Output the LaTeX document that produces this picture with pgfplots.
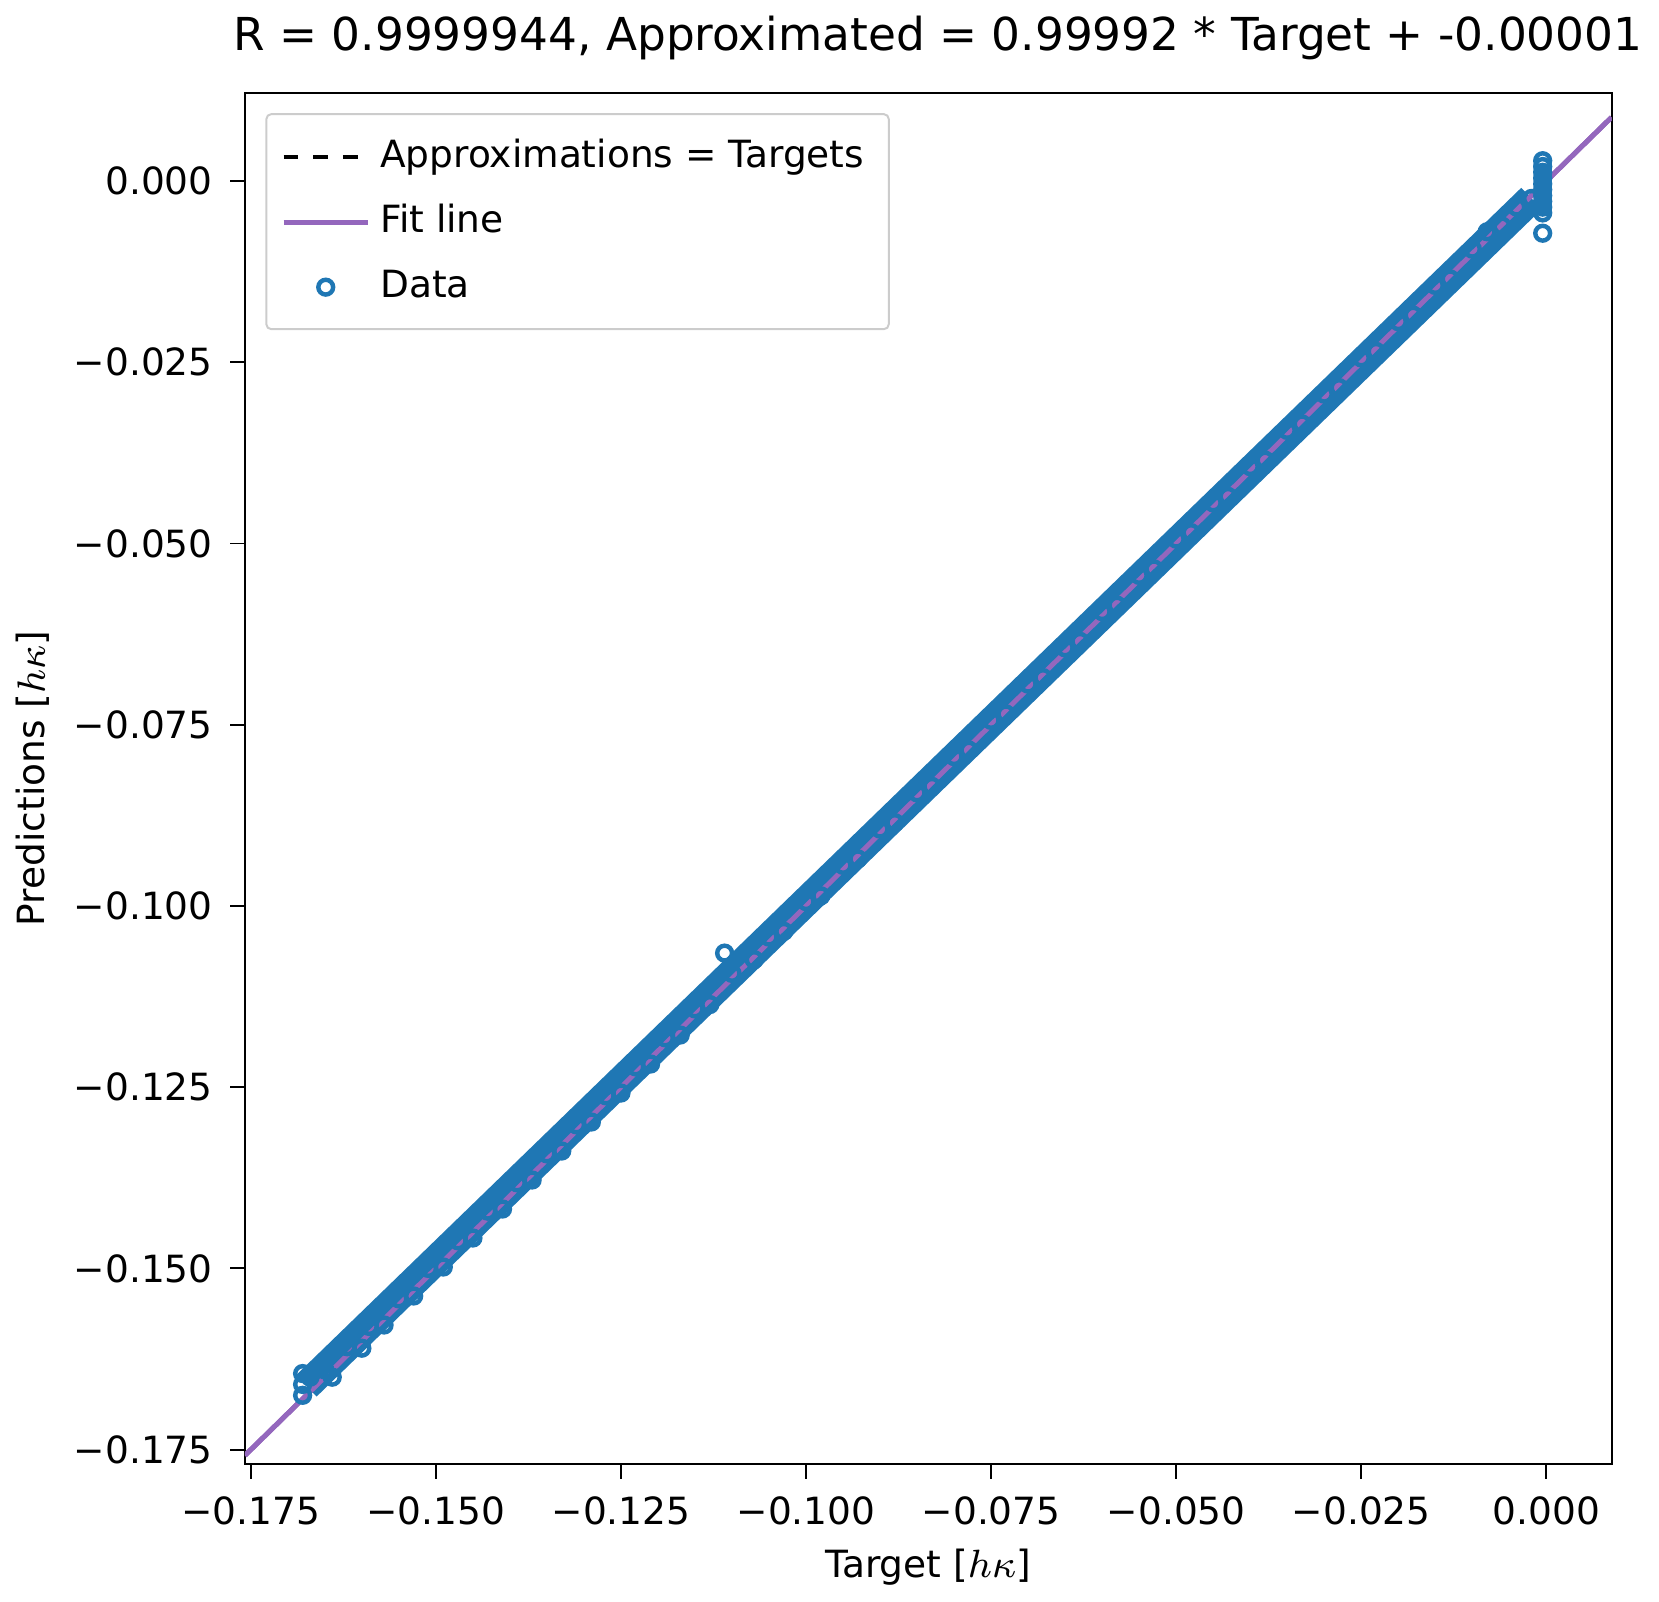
\documentclass[border=0pt]{standalone}
\usepackage{pgfplots}
\pgfplotsset{compat=1.18}
\usepackage{fontspec}
\setmainfont{DejaVu Sans}
\definecolor{mblue}{HTML}{1F77B4}
\definecolor{mpurp}{HTML}{9467BD}
\begin{document}
\begin{tikzpicture}
\begin{axis}[
 width=277pt, height=278pt, scale only axis,
 xmin=-0.1758, xmax=0.0088, ymin=-0.1770, ymax=0.0122,
 xtick={-0.175,-0.15,-0.125,-0.1,-0.075,-0.05,-0.025,0},
 xticklabels={−0.175,−0.150,−0.125,−0.100,−0.075,−0.050,−0.025,0.000},
 ytick={-0.175,-0.15,-0.125,-0.1,-0.075,-0.05,-0.025,0},
 yticklabels={−0.175,−0.150,−0.125,−0.100,−0.075,−0.050,−0.025,0.000},
 xtick pos=left, ytick pos=left,
 ticklabel style={font=\fontsize{7.6}{9}\selectfont},
 tick align=outside, tick style={black, thin}, major tick length=3pt,
 xlabel={Target [$h\kappa$]}, ylabel={Predictions [$h\kappa$]},
 xlabel style={font=\fontsize{7.6}{9}\selectfont, yshift=2pt},
 ylabel style={font=\fontsize{7.6}{9}\selectfont, yshift=-2pt},
 title={R = 0.9999944, Approximated = 0.99992 * Target + -0.00001},
 title style={font=\fontsize{9.2}{11}\selectfont, yshift=-3pt, xshift=2pt},
 legend pos=north west,
 legend style={font=\fontsize{7.6}{9}\selectfont, draw=black!20, rounded corners=1pt, inner sep=3pt, row sep=2pt, at={(0.015,0.985)}},
 legend cell align=left,
]
\addplot[black, dashed, thick] coordinates {(-0.1758,-0.1758) (0.0088,0.0088)};
\addlegendentry{Approximations = Targets}
\addplot[mpurp, line width=1pt] coordinates {(-0.1758,-0.17580) (0.0088,0.00879)};
\addlegendentry{Fit line}
\addplot[only marks, mark=o, mark size=1.5pt, mblue, line width=0.9pt] coordinates {
(-0.1680,-0.1660)(-0.1680,-0.1645)(-0.1680,-0.1675)(-0.1670,-0.1650)(-0.1650,-0.1640)(-0.1640,-0.1650)
(-0.1620,-0.1608)(-0.1600,-0.1610)(-0.1590,-0.1580)(-0.1570,-0.1578)(-0.1550,-0.1542)(-0.1530,-0.1538)
(-0.1510,-0.1500)(-0.1490,-0.1498)(-0.1470,-0.1462)(-0.1450,-0.1458)(-0.1430,-0.1421)(-0.1410,-0.1418)
(-0.1390,-0.1382)(-0.1370,-0.1378)(-0.1350,-0.1342)(-0.1330,-0.1338)(-0.1310,-0.1302)(-0.1290,-0.1298)
(-0.1270,-0.1262)(-0.1250,-0.1258)(-0.1230,-0.1222)(-0.1210,-0.1218)(-0.1190,-0.1182)(-0.1170,-0.1178)
(-0.1150,-0.1142)(-0.1130,-0.1136)(-0.1110,-0.1065)(-0.1100,-0.1093)(-0.1070,-0.1074)(-0.1050,-0.1043)
(-0.1030,-0.1035)(-0.1000,-0.0994)(-0.0980,-0.0986)(-0.0950,-0.0944)(-0.0930,-0.0935)(-0.0900,-0.0894)
(-0.0880,-0.0885)(-0.0850,-0.0844)(-0.0830,-0.0835)(-0.0800,-0.0794)(-0.0780,-0.0785)(-0.0750,-0.0744)
(-0.0730,-0.0735)(-0.0700,-0.0694)(-0.0680,-0.0685)(-0.0650,-0.0644)(-0.0630,-0.0635)(-0.0600,-0.0594)
(-0.0580,-0.0585)(-0.0550,-0.0544)(-0.0530,-0.0535)(-0.0500,-0.0494)(-0.0480,-0.0485)(-0.0450,-0.0444)
(-0.0430,-0.0435)(-0.0400,-0.0394)(-0.0380,-0.0385)(-0.0350,-0.0344)(-0.0330,-0.0335)(-0.0300,-0.0294)
(-0.0280,-0.0285)(-0.0250,-0.0244)(-0.0230,-0.0235)(-0.0200,-0.0194)(-0.0180,-0.0185)(-0.0150,-0.0144)
(-0.0130,-0.0135)(-0.0100,-0.0094)(-0.0080,-0.0070)(-0.0060,-0.0062)(-0.0040,-0.0036)(-0.0020,-0.0024)
(-0.0005,0.0028)(-0.0005,0.0020)(-0.0005,0.0012)(-0.0005,0.0004)(-0.0005,-0.0004)(-0.0005,-0.0012)
(-0.0005,-0.0020)(-0.0005,-0.0028)(-0.0005,-0.0036)(-0.0005,-0.0044)(-0.0005,-0.0072)
};
\addlegendentry{Data}
\addplot[mblue, line width=6pt, forget plot] coordinates {(-0.1675,-0.1662) (-0.0020,-0.0024)};
\addplot[mblue, line width=3pt, forget plot] coordinates {(-0.0005,0.0024) (-0.0005,-0.0045)};
\addplot[mpurp, line width=1pt, forget plot] coordinates {(-0.1758,-0.17580) (0.0088,0.00879)};
\end{axis}
\end{tikzpicture}
\end{document}
